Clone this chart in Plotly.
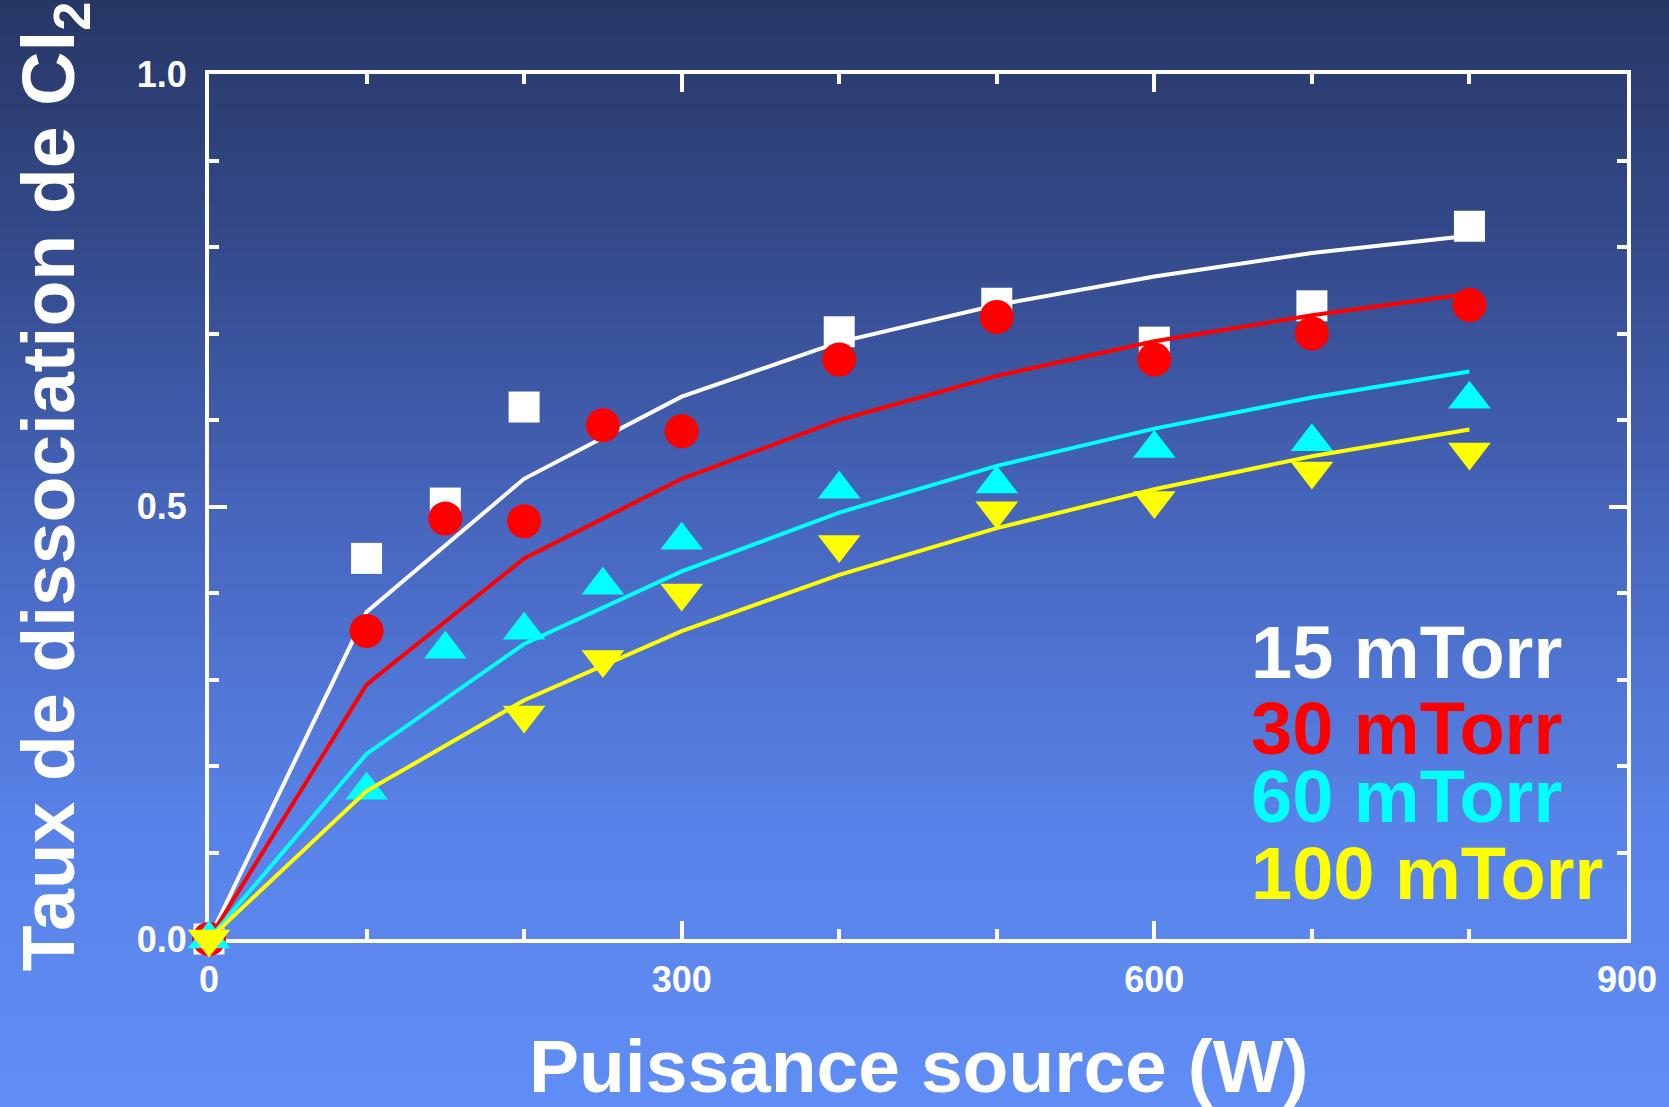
import plotly.graph_objects as go
import numpy as np

# ---------------- data ----------------
power_15 = [0, 100, 150, 200, 400, 500, 600, 700, 800]
diss_15 = [0.0, 0.44, 0.504, 0.615, 0.702, 0.735, 0.690, 0.732, 0.824]

power_30 = [0, 100, 150, 200, 250, 300, 400, 500, 600, 700, 800]
diss_30 = [0.0, 0.356, 0.486, 0.483, 0.594, 0.587, 0.670, 0.719, 0.670, 0.700, 0.733]

power_60 = [0, 100, 150, 200, 250, 300, 400, 500, 600, 700, 800]
diss_60 = [0.0, 0.172, 0.335, 0.357, 0.409, 0.461, 0.520, 0.526, 0.567, 0.575, 0.624]

power_100 = [0, 200, 250, 300, 400, 500, 600, 700, 800]
diss_100 = [0.0, 0.259, 0.323, 0.400, 0.456, 0.495, 0.507, 0.541, 0.563]

fit_power = [0, 100, 200, 300, 400, 500, 600, 700, 800]
fit_15 = [0.0, 0.378, 0.532, 0.627, 0.690, 0.733, 0.766, 0.793, 0.813]
fit_30 = [0.0, 0.294, 0.440, 0.532, 0.600, 0.651, 0.691, 0.721, 0.746]
fit_60 = [0.0, 0.214, 0.341, 0.425, 0.493, 0.547, 0.590, 0.626, 0.656]
fit_100 = [0.0, 0.171, 0.276, 0.356, 0.421, 0.475, 0.520, 0.558, 0.589]

x_ticks = [0, 300, 600, 900]
y_ticks = [0.0, 0.5, 1.0]
y_tick_labels = ["0.0", "0.5", "1.0"]
legend_labels = ["15 mTorr", "30 mTorr", "60 mTorr", "100 mTorr"]
colors = ["#ffffff", "#ff0000", "#00ffff", "#ffff00"]

FONT = "Liberation Sans, Arial, Helvetica, sans-serif"

W, H = 1669, 1107
L, R, T, B = 209, 40, 74, 168
pw, ph = W - L - R, H - T - B

fig = go.Figure()

series = [
    (power_15, diss_15, fit_15, "square", 31),
    (power_30, diss_30, fit_30, "circle", 34),
    (power_60, diss_60, fit_60, "triangle-up", 37),
    (power_100, diss_100, fit_100, "triangle-down", 37),
]
for (px_, py_, fy, sym, sz), col in zip(series, colors):
    fig.add_trace(go.Scatter(x=px_, y=py_, mode="markers",
                             marker=dict(symbol=sym, size=sz, color=col, line=dict(width=0)),
                             cliponaxis=False, showlegend=False, hoverinfo="skip"))
    fig.add_trace(go.Scatter(x=fit_power, y=fy, mode="lines",
                             line=dict(color=col, width=4),
                             cliponaxis=False, showlegend=False, hoverinfo="skip"))

# ---------------- background gradient ----------------
stops_px = [0, 270, 545, 820, 1107]
stops_rgb = [(39, 55, 101), (53, 76, 143), (72, 104, 193), (88, 130, 231), (96, 142, 246)]
shapes = []
step = 6
for y0 in range(0, H, step):
    yc = y0 + step / 2
    rgb = [int(round(np.interp(yc, stops_px, [c[i] for c in stops_rgb]))) for i in range(3)]
    shapes.append(dict(type="rect", xref="paper", yref="paper", layer="below",
                       x0=-L / pw - 0.01, x1=1 + R / pw + 0.01,
                       y0=(H - B - (y0 + step + 1)) / ph, y1=(H - B - y0) / ph,
                       fillcolor="rgb(%d,%d,%d)" % tuple(rgb), line=dict(width=0)))

# ---------------- annotations ----------------
annotations = []
legend_baselines = [678, 754, 822, 899]
for lab, col, base in zip(legend_labels, colors, legend_baselines):
    annotations.append(dict(text="<b>%s</b>" % lab, xref="paper", yref="paper",
                            x=(1250 - L) / pw, y=(H - B - (base - 26)) / ph,
                            xanchor="left", yanchor="middle", showarrow=False,
                            font=dict(family=FONT, size=74, color=col)))

annotations.append(dict(text="<b>Puissance source (W)</b>", xref="paper", yref="paper",
                        x=0.5, y=(H - B - 1066) / ph, xanchor="center", yanchor="middle",
                        showarrow=False, font=dict(family=FONT, size=75, color="white")))
annotations.append(dict(text="<b>Taux de dissociation de Cl<sub>2</sub></b>", xref="paper", yref="paper",
                        x=(53 - L) / pw, y=(H - B - 486) / ph, xanchor="center", yanchor="middle",
                        textangle=-90, showarrow=False,
                        font=dict(family=FONT, size=75, color="white")))

axis_common = dict(showgrid=False, zeroline=False, showline=True, linecolor="white",
                   linewidth=4, mirror="allticks", ticks="inside", tickcolor="white",
                   tickwidth=4, ticklen=18, layer="below traces",
                   tickfont=dict(family=FONT, size=36, color="white", weight="bold"))

fig.update_layout(
    width=W, height=H,
    margin=dict(l=L, r=R, t=T, b=B),
    paper_bgcolor="rgb(70,100,185)",
    plot_bgcolor="rgba(0,0,0,0)",
    shapes=shapes,
    annotations=annotations,
    showlegend=False,
    hovermode=False,
    xaxis=dict(range=[0, 900], tickmode="array", tickvals=x_ticks,
               ticktext=[str(v) for v in x_ticks], ticklabelstandoff=6,
               minor=dict(dtick=100, tick0=0, ticks="inside", ticklen=10, tickwidth=4,
                          tickcolor="white", showgrid=False),
               **axis_common),
    yaxis=dict(range=[0, 1], tickmode="array", tickvals=y_ticks, ticktext=y_tick_labels,
               ticklabelstandoff=11,
               minor=dict(dtick=0.1, tick0=0, ticks="inside", ticklen=10, tickwidth=4,
                          tickcolor="white", showgrid=False),
               **axis_common),
)

fig.write_html("out.html", config={"displayModeBar": False, "staticPlot": True},
               post_script="document.body.style.margin='0px';document.body.style.overflow='hidden';")
